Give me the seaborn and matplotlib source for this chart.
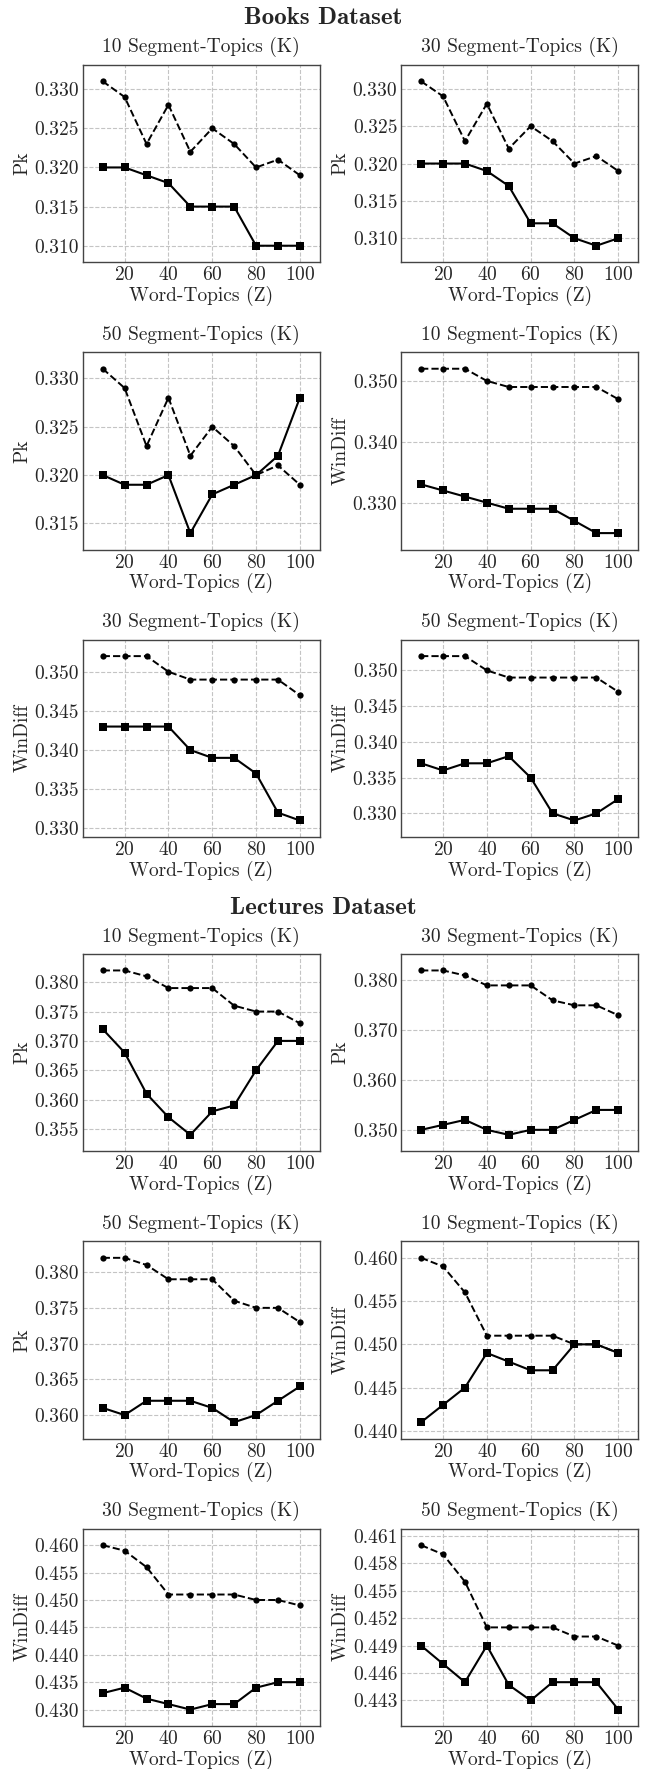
import numpy as np
import pandas as pd
import matplotlib
matplotlib.use("Agg")
import matplotlib.pyplot as plt
import seaborn as sns
from matplotlib.ticker import MultipleLocator, FormatStrFormatter

# DATA
word_topics = [10, 20, 30, 40, 50, 60, 70, 80, 90, 100]
seg_topics = ["10", "30", "50"]

# dashed baseline, same for every K
books_pk_base = [0.331, 0.329, 0.323, 0.328, 0.322, 0.325, 0.323, 0.320, 0.321, 0.319]
books_wd_base = [0.352, 0.352, 0.352, 0.350, 0.349, 0.349, 0.349, 0.349, 0.349, 0.347]
lect_pk_base = [0.382, 0.382, 0.381, 0.379, 0.379, 0.379, 0.376, 0.375, 0.375, 0.373]
lect_wd_base = [0.460, 0.459, 0.456, 0.451, 0.451, 0.451, 0.451, 0.450, 0.450, 0.449]

# solid series, one per K
books_pk = {
    "10": [0.320, 0.320, 0.319, 0.318, 0.315, 0.315, 0.315, 0.310, 0.310, 0.310],
    "30": [0.320, 0.320, 0.320, 0.319, 0.317, 0.312, 0.312, 0.310, 0.309, 0.310],
    "50": [0.320, 0.319, 0.319, 0.320, 0.314, 0.318, 0.319, 0.320, 0.322, 0.328],
}
books_wd = {
    "10": [0.333, 0.332, 0.331, 0.330, 0.329, 0.329, 0.329, 0.327, 0.325, 0.325],
    "30": [0.343, 0.343, 0.343, 0.343, 0.340, 0.339, 0.339, 0.337, 0.332, 0.331],
    "50": [0.337, 0.336, 0.337, 0.337, 0.338, 0.335, 0.330, 0.329, 0.330, 0.332],
}
lect_pk = {
    "10": [0.372, 0.368, 0.361, 0.357, 0.354, 0.358, 0.359, 0.365, 0.370, 0.370],
    "30": [0.350, 0.351, 0.352, 0.350, 0.349, 0.350, 0.350, 0.352, 0.354, 0.354],
    "50": [0.361, 0.360, 0.362, 0.362, 0.362, 0.361, 0.359, 0.360, 0.362, 0.364],
}
lect_wd = {
    "10": [0.441, 0.443, 0.445, 0.449, 0.448, 0.447, 0.447, 0.450, 0.450, 0.449],
    "30": [0.433, 0.434, 0.432, 0.431, 0.430, 0.431, 0.431, 0.434, 0.435, 0.435],
    "50": [0.449, 0.447, 0.445, 0.449, 0.4447, 0.443, 0.445, 0.445, 0.445, 0.442],
}

# panels in reading order: (metric label, K, baseline, series, tick step, tick offset)
books_panels = [
    ("Pk", "10", books_pk_base, books_pk["10"], 0.005, 0.0),
    ("Pk", "30", books_pk_base, books_pk["30"], 0.005, 0.0),
    ("Pk", "50", books_pk_base, books_pk["50"], 0.005, 0.0),
    ("WinDiff", "10", books_wd_base, books_wd["10"], 0.01, 0.0),
    ("WinDiff", "30", books_wd_base, books_wd["30"], 0.005, 0.0),
    ("WinDiff", "50", books_wd_base, books_wd["50"], 0.005, 0.0),
]
lect_panels = [
    ("Pk", "10", lect_pk_base, lect_pk["10"], 0.005, 0.0),
    ("Pk", "30", lect_pk_base, lect_pk["30"], 0.01, 0.0),
    ("Pk", "50", lect_pk_base, lect_pk["50"], 0.005, 0.0),
    ("WinDiff", "10", lect_wd_base, lect_wd["10"], 0.005, 0.0),
    ("WinDiff", "30", lect_wd_base, lect_wd["30"], 0.005, 0.0),
    ("WinDiff", "50", lect_wd_base, lect_wd["50"], 0.003, 0.002),
]

# STYLE
sns.set_style("whitegrid")
plt.rcParams["font.family"] = ["cmr10", "DejaVu Serif"]
plt.rcParams["axes.formatter.use_mathtext"] = True
plt.rcParams["axes.xmargin"] = 0.1
plt.rcParams["axes.ymargin"] = 0.1
plt.rcParams["font.size"] = 14

fig = plt.figure(figsize=(6.46, 17.69), dpi=100)
gs_books = fig.add_gridspec(3, 2, left=0.1285, right=0.9876, top=0.9633, bottom=0.5269,
                            wspace=0.346, hspace=0.457)
gs_lect = fig.add_gridspec(3, 2, left=0.1285, right=0.9876, top=0.4607, bottom=0.0243,
                           wspace=0.346, hspace=0.457)


def draw_panel(ax, metric, k, base, series, step, offset):
    df = pd.DataFrame({"Z": word_topics, "base": base, "model": series})
    sns.lineplot(data=df, x="Z", y="base", ax=ax, color="black", linestyle="--",
                 dashes=(2.2, 1.6), marker="o", markersize=4.5, markeredgewidth=0,
                 linewidth=1.4)
    sns.lineplot(data=df, x="Z", y="model", ax=ax, color="black", linestyle="-",
                 marker="s", markersize=6, markeredgewidth=0, linewidth=1.5)
    ax.set_title(f"{k} Segment-Topics (K)", fontsize=14, pad=9)
    ax.set_xlabel("Word-Topics (Z)", fontsize=14, labelpad=1)
    ax.set_ylabel(metric, fontsize=14, labelpad=2)
    ax.xaxis.set_major_locator(MultipleLocator(20))
    ax.yaxis.set_major_locator(MultipleLocator(step, offset=offset))
    ax.yaxis.set_major_formatter(FormatStrFormatter("%.3f"))
    ax.tick_params(length=0, labelsize=14, pad=3)
    ax.grid(True, linestyle="--", color="#c4c4c4", linewidth=0.8)
    for sp in ax.spines.values():
        sp.set_color("#444444")
        sp.set_linewidth(1.0)


for gs, panels in [(gs_books, books_panels), (gs_lect, lect_panels)]:
    for i, (metric, k, base, series, step, offset) in enumerate(panels):
        ax = fig.add_subplot(gs[i // 2, i % 2])
        draw_panel(ax, metric, k, base, series, step, offset)

fig.text(0.5, 1 - 18 / 1769, "Books Dataset", family="cmb10", fontsize=18,
         ha="center", va="center")
fig.text(0.5, 1 - 908 / 1769, "Lectures Dataset", family="cmb10", fontsize=18,
         ha="center", va="center")

fig.savefig("out.png", dpi=100)
